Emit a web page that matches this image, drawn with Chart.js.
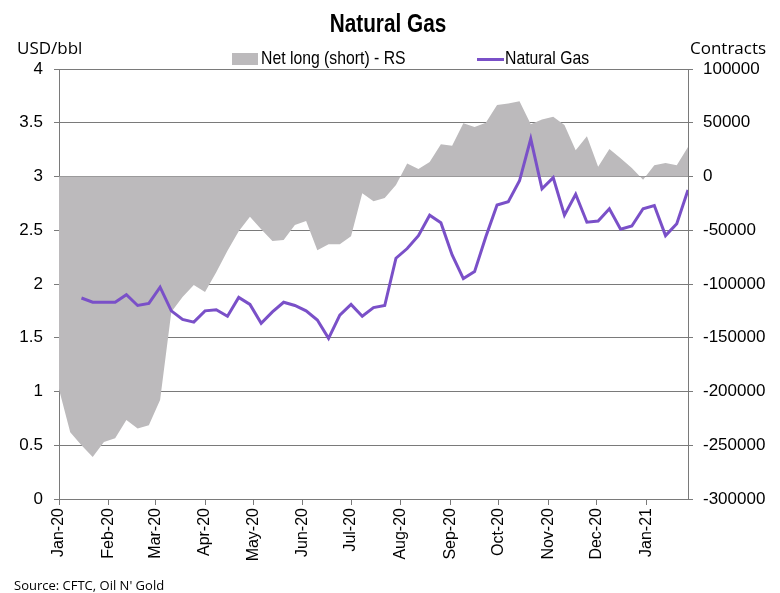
<!DOCTYPE html>
<html>
<head>
<meta charset="utf-8">
<script src="https://cdn.jsdelivr.net/npm/chart.js@4/dist/chart.umd.min.js"></script>
<style>
    html, body { margin: 0; padding: 0; background: #fff; }
    #wrap { position: relative; width: 780px; height: 593px; overflow: hidden; }
    #chart { position: absolute; left: 0; top: 0; }
    .txt { position: absolute; white-space: nowrap; color: #000; line-height: 1; }
    #title { left: 0; width: 776px; text-align: center; top: 9px;
             font: bold 25px "Liberation Sans", Arial, sans-serif;
             transform: scaleX(0.83); transform-origin: 388px 0; }
    #unitLeft { left: 17px; top: 36px; font: 17px "Open Sans", sans-serif; }
    #unitRight { left: 690px; top: 36px; font: 17px "Open Sans", sans-serif; }
    .leg { top: 47px; font: 19px "Liberation Sans", Arial, sans-serif;
           transform: scaleX(0.83); transform-origin: 0 0; }
    #legBox { position: absolute; left: 232px; top: 53px; width: 26px; height: 12px; background: #bcbabc; }
    #legLine { position: absolute; left: 477px; top: 58px; width: 27px; height: 3px; background: #7a50c8; }
    #source { left: 14px; top: 576px; font: 13px "Open Sans", sans-serif; }
</style>
</head>
<body>
<div id="wrap">
    <canvas id="chart" width="780" height="593"></canvas>
    <div id="title" class="txt">Natural Gas</div>
    <div id="unitLeft" class="txt">USD/bbl</div>
    <div id="unitRight" class="txt">Contracts</div>
    <div id="legBox"></div>
    <div class="txt leg" style="left:261px">Net long (short) - RS</div>
    <div id="legLine"></div>
    <div class="txt leg" style="left:505px">Natural Gas</div>
    <div id="source" class="txt">Source: CFTC, Oil N' Gold</div>
</div>
<script>
// weekly CFTC report dates
const weeks = [
    '2020-01-07', '2020-01-14', '2020-01-21', '2020-01-28',
    '2020-02-04', '2020-02-11', '2020-02-18', '2020-02-25',
    '2020-03-03', '2020-03-10', '2020-03-17', '2020-03-24', '2020-03-31',
    '2020-04-07', '2020-04-14', '2020-04-21', '2020-04-28',
    '2020-05-05', '2020-05-12', '2020-05-19', '2020-05-26',
    '2020-06-02', '2020-06-09', '2020-06-16', '2020-06-23', '2020-06-30',
    '2020-07-07', '2020-07-14', '2020-07-21', '2020-07-28',
    '2020-08-04', '2020-08-11', '2020-08-18', '2020-08-25',
    '2020-09-01', '2020-09-08', '2020-09-15', '2020-09-22', '2020-09-29',
    '2020-10-06', '2020-10-13', '2020-10-20', '2020-10-27',
    '2020-11-03', '2020-11-10', '2020-11-17', '2020-11-24',
    '2020-12-01', '2020-12-08', '2020-12-15', '2020-12-22', '2020-12-29',
    '2021-01-05', '2021-01-12', '2021-01-19', '2021-01-26',
    '2021-02-02'
];

// net long (short), contracts - right scale
const netPositions = [
    -198000, -238000, -250000, -261000,
    -247000, -243500, -226500, -234500,
    -231500, -208000, -126000, -112000, -101000,
    -107500, -89000, -69000, -51000,
    -37500, -49000, -60000, -59000,
    -45000, -41500, -68500, -63000, -63000,
    -55500, -15500, -23000, -20000,
    -8000, 12000, 7000, 13500,
    30000, 28500, 49500, 46000, 50000,
    66500, 68000, 70000, 48500,
    53000, 55500, 48000, 24500,
    37500, 9000, 25500, 17000, 8000,
    -3000, 10500, 12500, 10500,
    27500
];

// natural gas price, USD - left scale
const gasPrices = [
    null, null, 1.87, 1.83,
    1.83, 1.83, 1.90, 1.80,
    1.82, 1.97, 1.75, 1.67, 1.645,
    1.75, 1.76, 1.70, 1.875,
    1.81, 1.635, 1.74, 1.83,
    1.80, 1.75, 1.665, 1.495, 1.71,
    1.81, 1.70, 1.78, 1.80,
    2.24, 2.33, 2.45, 2.64,
    2.57, 2.27, 2.05, 2.115, 2.44,
    2.735, 2.765, 2.96, 3.35,
    2.885, 2.99, 2.64, 2.835,
    2.575, 2.585, 2.70, 2.51, 2.54,
    2.70, 2.73, 2.45, 2.56,
    2.875
];

const tickDates = [
    '2020-01-07', '2020-02-07', '2020-03-07', '2020-04-07', '2020-05-07', '2020-06-07', '2020-07-07',
    '2020-08-07', '2020-09-07', '2020-10-07', '2020-11-07', '2020-12-07', '2021-01-07'
];
const tickLabels = [
    'Jan-20', 'Feb-20', 'Mar-20', 'Apr-20', 'May-20', 'Jun-20', 'Jul-20',
    'Aug-20', 'Sep-20', 'Oct-20', 'Nov-20', 'Dec-20', 'Jan-21'
];

const gridColor = '#7a7a7a';
const axisFont = { family: '"Liberation Sans", Arial, sans-serif', size: 17 };

const dayOf = d => (Date.parse(d) - Date.parse(weeks[0])) / 864e5;

new Chart(document.getElementById('chart'), {
    type: 'line',
    data: {
        datasets: [
            {
                label: 'Natural Gas',
                yAxisID: 'y',
                data: weeks.map((d, i) => ({ x: dayOf(d), y: gasPrices[i] })),
                borderColor: '#7a50c8',
                borderWidth: 3,
                pointRadius: 0,
                tension: 0,
                fill: false,
                order: 0
            },
            {
                label: 'Net long (short) - RS',
                yAxisID: 'y1',
                data: weeks.map((d, i) => ({ x: dayOf(d), y: netPositions[i] })),
                backgroundColor: '#bcbabc',
                borderColor: 'rgba(0,0,0,0)',
                borderWidth: 0,
                pointRadius: 0,
                tension: 0,
                fill: 'origin',
                order: 1
            }
        ]
    },
    options: {
        responsive: false,
        animation: false,
        layout: { padding: { top: 69 } },
        plugins: {
            legend: { display: false },
            tooltip: { enabled: false }
        },
        scales: {
            x: {
                type: 'linear',
                min: 0,
                max: dayOf(weeks[weeks.length - 1]),
                afterBuildTicks: scale => {
                    scale.ticks = tickDates.map(d => ({ value: dayOf(d) }));
                },
                afterFit: scale => { scale.height = 94; },
                ticks: {
                    autoSkip: false,
                    minRotation: 90,
                    maxRotation: 90,
                    padding: 3,
                    color: '#000',
                    font: { family: '"Liberation Sans", Arial, sans-serif', size: 16 },
                    callback: (v, i) => tickLabels[i]
                },
                grid: { drawOnChartArea: false, tickLength: 6, color: gridColor },
                border: { color: gridColor }
            },
            y: {
                position: 'left',
                min: 0,
                max: 4,
                afterFit: scale => { scale.width = 59; },
                ticks: { stepSize: 0.5, padding: 11, color: '#000', font: axisFont, callback: v => String(v) },
                grid: { color: gridColor, tickLength: 5 },
                border: { color: gridColor }
            },
            y1: {
                position: 'right',
                min: -300000,
                max: 100000,
                afterFit: scale => { scale.width = 92; },
                ticks: { stepSize: 50000, padding: 10, color: '#000', font: axisFont, callback: v => String(v) },
                grid: { drawOnChartArea: false, color: gridColor, tickLength: 5 },
                border: { color: gridColor }
            }
        }
    }
});
</script>
</body>
</html>
